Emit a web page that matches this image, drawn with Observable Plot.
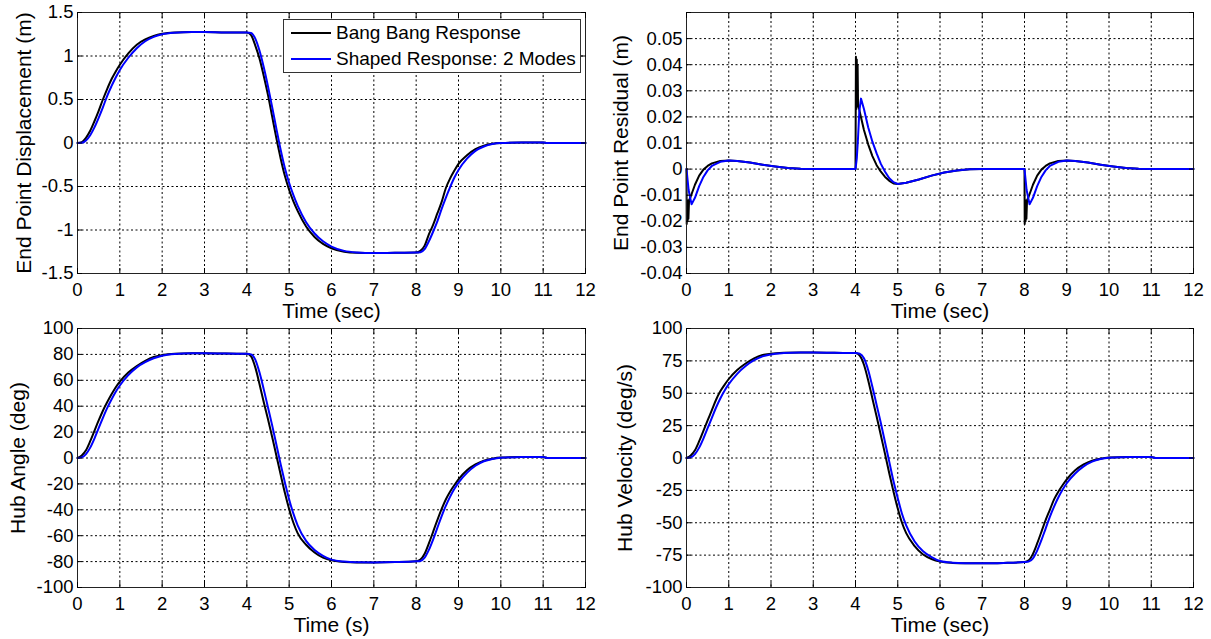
<!DOCTYPE html>
<html><head><meta charset="utf-8">
<script src="https://cdn.jsdelivr.net/npm/d3@7"></script>
<script src="https://cdn.jsdelivr.net/npm/@observablehq/plot@0.6"></script>
<style>
body{margin:0;background:#fff;font-family:"Liberation Sans",Arial,sans-serif;}
#root{position:relative;width:1211px;height:639px;overflow:hidden;background:#fff}
.panel{position:absolute}
.panel svg{overflow:visible}
.legend{position:absolute;left:283px;top:19px;width:296px;height:52px;border:1px solid #333;background:#fff;font-size:19px;color:#000}
.legend .row{position:absolute;left:0;height:20px;display:flex;align-items:center;white-space:nowrap}
.legend .sw{display:inline-block;width:40px;height:2px;margin-left:7px;margin-right:5px}
</style></head><body><div id="root"></div>
<script>
// ---- data ----
const timeTicks = [0,1,2,3,4,5,6,7,8,9,10,11,12];
const dispTicks = [-1.5,-1,-0.5,0,0.5,1,1.5];
const resTicks = [-0.04,-0.03,-0.02,-0.01,0,0.01,0.02,0.03,0.04,0.05];
const resGrid = [-0.04,-0.03,-0.02,-0.01,0,0.01,0.02,0.03,0.04,0.05,0.06];
const angleTicks = [-100,-80,-60,-40,-20,0,20,40,60,80,100];
const velTicks = [-100,-75,-50,-25,0,25,50,75,100];

const seriesNames = ["Bang Bang Response", "Shaped Response: 2 Modes"];
const seriesColors = ["#000000", "#0000ff"];

// common time grid for displacement / hub angle / hub velocity
const tMain = [0,0.1,0.2,0.3,0.4,0.5,0.6,0.7,0.8,0.9,1.0,1.2,1.4,1.6,1.8,2.0,2.3,2.7,3.0,3.5,4.0,4.1,4.2,4.3,4.4,4.5,4.6,4.7,4.8,4.9,5.0,5.1,5.2,5.4,5.6,5.8,6.0,6.3,6.6,7.0,7.5,8.0,8.1,8.2,8.3,8.4,8.5,8.6,8.7,8.8,8.9,9.0,9.2,9.4,9.6,9.8,10.0,10.5,11.0,11.1,12.0];

const dispBang = [0,0.01,0.06,0.14,0.25,0.37,0.5,0.62,0.73,0.82,0.9,1.03,1.13,1.19,1.23,1.255,1.27,1.275,1.275,1.27,1.27,1.24,1.12,0.97,0.77,0.55,0.3,0.05,-0.18,-0.38,-0.54,-0.67,-0.78,-0.96,-1.08,-1.16,-1.21,-1.25,-1.262,-1.265,-1.262,-1.26,-1.24,-1.18,-1.05,-0.94,-0.81,-0.68,-0.52,-0.41,-0.32,-0.24,-0.14,-0.07,-0.03,-0.008,0,0.005,0.005,0,0];
const dispShaped = [0,0.002,0.03,0.09,0.18,0.29,0.41,0.54,0.65,0.75,0.84,0.98,1.09,1.17,1.22,1.25,1.268,1.275,1.275,1.27,1.27,1.265,1.2,1.06,0.87,0.65,0.41,0.16,-0.08,-0.29,-0.46,-0.6,-0.72,-0.91,-1.04,-1.13,-1.19,-1.24,-1.258,-1.265,-1.262,-1.26,-1.255,-1.22,-1.13,-1.02,-0.9,-0.76,-0.63,-0.51,-0.4,-0.31,-0.18,-0.09,-0.04,-0.012,0,0.005,0.005,0,0];

const angleBang = [0,2,6,13,21,29,36.5,43,49,54.5,59,66,71,75,78,79.5,80.5,80.8,80.8,80.6,80.5,78.5,70,57,43,30,16,1.5,-13,-27,-39.5,-50,-58,-67,-73,-77,-79,-80.3,-80.6,-80.6,-80.4,-79.8,-78.5,-74,-66,-57,-48,-39.5,-32,-26,-21,-16.5,-9.5,-5,-2,-0.5,0.3,0.7,0.7,0,0];
const angleShaped = [0,0.5,3,8,15,23,31,38.5,45,51,56,64,70,74,77,79,80.3,80.8,80.8,80.6,80.5,80,76,66,53,39,25,10,-5,-19,-32,-43,-52,-64,-71,-75.5,-78.5,-80,-80.5,-80.6,-80.4,-79.8,-79.5,-77,-71,-63,-54,-45,-37,-30,-24,-19,-11.5,-6,-2.5,-0.7,0.2,0.7,0.7,0,0];

const velBang = [0,2,6,13,21,29,37,45,51.5,56.5,61,68,73,77,79.5,80.5,81.2,81.5,81.5,81.2,81,79,72,60,46,32,17.5,3,-12,-26,-39,-50,-58,-68,-74.5,-78,-80,-81,-81.3,-81.3,-81,-80.3,-79,-74,-66,-57,-48,-40,-32,-26,-21,-16.5,-9.5,-5,-2,-0.5,0.3,0.8,0.8,0,0];
const velShaped = [0,0.5,3,8,15,23,31,39,46,52,57,65,71,75.5,78.5,80,81,81.5,81.5,81.2,81,80.5,77,68,55,41,27,12,-3,-18,-31,-43,-52,-64.5,-72,-76.5,-79.5,-80.8,-81.2,-81.3,-81,-80.3,-80,-77.5,-71.5,-63.5,-54.5,-45.5,-37.5,-30.5,-24.5,-19.5,-12,-6.5,-2.8,-0.8,0.2,0.8,0.8,0,0];

// end point residual (separate time samples per series)
const tResBang = [0,0.005,0.015,0.025,0.035,0.045,0.06,0.1,0.2,0.3,0.4,0.5,0.6,0.8,1.0,1.2,1.5,1.8,2.1,2.4,2.7,3.0,4.0,4.01,4.02,4.03,4.04,4.05,4.06,4.1,4.2,4.3,4.4,4.5,4.6,4.7,4.8,4.9,5.0,5.2,5.5,5.8,6.1,6.4,6.7,7.0,8.0,8.005,8.015,8.025,8.035,8.045,8.06,8.1,8.2,8.3,8.4,8.5,8.6,8.8,9.0,9.2,9.5,9.8,10.1,10.4,10.7,11.0,12];
const resBang = [0,-0.021,-0.013,-0.02,-0.012,-0.019,-0.012,-0.0105,-0.006,-0.0025,-0.0002,0.0012,0.0022,0.0031,0.0033,0.0031,0.0025,0.0017,0.001,0.0004,0.0001,0,0,0.043,0.023,0.042,0.024,0.04,0.025,0.022,0.015,0.0095,0.005,0.0015,-0.001,-0.003,-0.0045,-0.0055,-0.0057,-0.0052,-0.004,-0.0025,-0.0013,-0.0005,-0.0001,0,0,-0.021,-0.013,-0.02,-0.012,-0.019,-0.012,-0.0105,-0.006,-0.0025,-0.0002,0.0012,0.0022,0.0031,0.0033,0.0031,0.0025,0.0017,0.001,0.0004,0.0001,0,0];
const tResShaped = [0,0.05,0.12,0.2,0.3,0.4,0.5,0.6,0.8,1.0,1.2,1.5,1.8,2.1,2.4,2.7,3.0,4.0,4.03,4.06,4.09,4.13,4.2,4.3,4.4,4.5,4.6,4.7,4.8,4.9,5.0,5.2,5.5,5.8,6.1,6.4,6.7,7.0,8.0,8.05,8.12,8.2,8.3,8.4,8.5,8.6,8.8,9.0,9.2,9.5,9.8,10.1,10.4,10.7,11.0,12];
const resShaped = [0,-0.008,-0.0135,-0.011,-0.0065,-0.003,-0.0005,0.0012,0.0028,0.0033,0.0031,0.0025,0.0017,0.001,0.0004,0.0001,0,0,0.004,0.012,0.022,0.027,0.023,0.016,0.0105,0.006,0.002,-0.001,-0.0035,-0.005,-0.0057,-0.0052,-0.004,-0.0025,-0.0013,-0.0005,-0.0001,0,0,-0.008,-0.0135,-0.011,-0.0065,-0.003,-0.0005,0.0012,0.0028,0.0033,0.0031,0.0025,0.0017,0.001,0.0004,0.0001,0,0];

// ---- drawing ----
const root = document.getElementById("root");
const fmt = d => String(d);
const toRows = (ts, vs) => ts.map((t, i) => ({t, v: vs[i]}));

function panel({left, top, width, height, mL, mR, mT, mB, yDomain, yTicks, yGrid, yLabel, yLabelDx, xLabel, series, curve}) {
  const gridStyle = {stroke: "#000", strokeOpacity: 1, strokeWidth: 1, strokeDasharray: "2,2.5"};
  const chart = Plot.plot({
    width, height,
    marginLeft: mL, marginRight: mR, marginTop: mT, marginBottom: mB,
    x: {domain: [0, 12]},
    y: {domain: yDomain},
    style: {fontFamily: "'Liberation Sans', Arial, sans-serif", fontSize: "18.5px", color: "#000", background: "transparent", overflow: "visible"},
    marks: [
      Plot.gridX(timeTicks, gridStyle),
      Plot.gridY(yGrid || yTicks, gridStyle),
      ...series.map(s => Plot.line(toRows(s.t, s.v), {x: "t", y: "v", stroke: s.color, strokeWidth: 2, curve})),
      Plot.frame({stroke: "#222", strokeWidth: 1}),
      Plot.axisX(timeTicks, {anchor: "bottom", tickSize: 0, tickPadding: 9, label: null, tickFormat: fmt, fontSize: 18.5}),
      Plot.axisX(timeTicks, {anchor: "bottom", tickSize: 5, dy: -5, fill: "none", label: null}),
      Plot.axisX(timeTicks, {anchor: "top", tickSize: 5, dy: 5, fill: "none", label: null}),
      Plot.axisY(yTicks, {anchor: "left", tickSize: 0, tickPadding: 4, label: null, tickFormat: fmt, fontSize: 18.5}),
      Plot.axisY(yGrid || yTicks, {anchor: "left", tickSize: 5, dx: 5, fill: "none", label: null}),
      Plot.axisY(yGrid || yTicks, {anchor: "right", tickSize: 5, dx: -5, fill: "none", label: null}),
      Plot.text([xLabel], {frameAnchor: "bottom", textAnchor: "middle", lineAnchor: "bottom", dy: 44, fontSize: 21, fill: "#000"}),
      Plot.text([yLabel], {frameAnchor: "left", textAnchor: "middle", lineAnchor: "bottom", rotate: -90, dx: yLabelDx, fontSize: 21, fill: "#000"})
    ]
  });
  const div = document.createElement("div");
  div.className = "panel";
  div.style.left = left + "px";
  div.style.top = top + "px";
  div.appendChild(chart);
  root.appendChild(div);
}

panel({left: 0, top: 0, width: 605, height: 320, mL: 77, mR: 20, mT: 12, mB: 47,
  yDomain: [-1.5, 1.5], yTicks: dispTicks, yLabel: "End Point Displacement (m)", yLabelDx: -47, xLabel: "Time (sec)",
  curve: "monotone-x",
  series: [{t: tMain, v: dispBang, color: seriesColors[0]}, {t: tMain, v: dispShaped, color: seriesColors[1]}]});

panel({left: 605, top: 0, width: 606, height: 320, mL: 81, mR: 18, mT: 12, mB: 47,
  yDomain: [-0.04, 0.06], yTicks: resTicks, yGrid: resGrid, yLabel: "End Point Residual (m)", yLabelDx: -59, xLabel: "Time (sec)",
  curve: "linear",
  series: [{t: tResBang, v: resBang, color: seriesColors[0]}, {t: tResShaped, v: resShaped, color: seriesColors[1]}]});

panel({left: 0, top: 316, width: 605, height: 323, mL: 77, mR: 20, mT: 12, mB: 52,
  yDomain: [-100, 100], yTicks: angleTicks, yLabel: "Hub Angle (deg)", yLabelDx: -53, xLabel: "Time (s)",
  curve: "monotone-x",
  series: [{t: tMain, v: angleBang, color: seriesColors[0]}, {t: tMain, v: angleShaped, color: seriesColors[1]}]});

panel({left: 605, top: 316, width: 606, height: 323, mL: 81, mR: 18, mT: 12, mB: 52,
  yDomain: [-100, 100], yTicks: velTicks, yLabel: "Hub Velocity (deg/s)", yLabelDx: -55, xLabel: "Time (sec)",
  curve: "monotone-x",
  series: [{t: tMain, v: velBang, color: seriesColors[0]}, {t: tMain, v: velShaped, color: seriesColors[1]}]});

// legend (top-left panel)
const leg = document.createElement("div");
leg.className = "legend";
seriesNames.forEach((name, i) => {
  const row = document.createElement("div");
  row.className = "row";
  row.style.top = (i === 0 ? 3 : 29) + "px";
  const sw = document.createElement("span");
  sw.className = "sw";
  sw.style.background = seriesColors[i];
  const tx = document.createElement("span");
  tx.textContent = name;
  row.appendChild(sw);
  row.appendChild(tx);
  leg.appendChild(row);
});
root.appendChild(leg);
</script></body></html>
